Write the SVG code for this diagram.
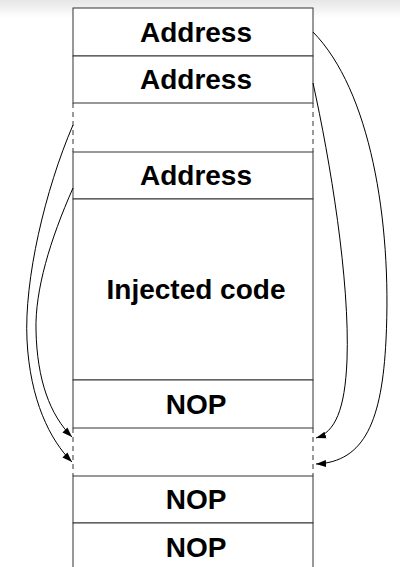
<svg xmlns="http://www.w3.org/2000/svg" width="400" height="567" viewBox="0 0 400 567">
<style>
.cell{fill:#fff;stroke:#333;stroke-width:1}
.side{stroke:#333;stroke-width:1;stroke-dasharray:5,4;fill:none}
.lbl{font-family:"Liberation Sans",Arial,sans-serif;font-weight:bold;font-size:28px;text-anchor:middle;fill:#000}
.conn{fill:none;stroke:#000;stroke-width:1}
</style>
<defs>
<linearGradient id="top" x1="0" y1="0" x2="0" y2="1">
<stop offset="0" stop-color="#e6e6e6"/>
<stop offset="1" stop-color="#ffffff"/>
</linearGradient>
<marker id="ah" viewBox="0 0 10 10" refX="10" refY="5" markerWidth="10" markerHeight="10" markerUnits="userSpaceOnUse" orient="auto">
<path d="M0,1.5 L10,5 L0,8.5 Z" fill="#000"/>
</marker>
</defs>
<rect x="0" y="0" width="400" height="567" fill="#fff"/>
<rect x="0" y="0" width="400" height="18" fill="url(#top)"/>
<g id="addr1"><rect class="cell" x="73" y="8" width="240" height="48"/><text class="lbl" x="196" y="42">Address</text></g>
<g id="addr2"><rect class="cell" x="73" y="56" width="240" height="47"/><text class="lbl" x="196" y="89">Address</text></g>
<g id="gap1"><line class="side" x1="73" y1="103" x2="73" y2="152"/><line class="side" x1="313" y1="103" x2="313" y2="152"/></g>
<g id="addr3"><rect class="cell" x="73" y="152" width="240" height="47"/><text class="lbl" x="196" y="185">Address</text></g>
<g id="code"><rect class="cell" x="73" y="199" width="240" height="181"/><text class="lbl" x="196" y="299">Injected code</text></g>
<g id="nop1"><rect class="cell" x="73" y="380" width="240" height="48"/><text class="lbl" x="196" y="414">NOP</text></g>
<g id="gap2"><line class="side" x1="73" y1="428" x2="73" y2="476"/><line class="side" x1="313" y1="428" x2="313" y2="476"/></g>
<g id="nop2"><rect class="cell" x="73" y="476" width="240" height="47"/><text class="lbl" x="196" y="509">NOP</text></g>
<g id="nop3"><rect class="cell" x="73" y="523" width="240" height="50"/><text class="lbl" x="196" y="557">NOP</text></g>
<g id="connectors">
<path class="conn" marker-end="url(#ah)" d="M73,125 C45,190 24,280 27,340 C30,400 50,440 72,462"/>
<path class="conn" marker-end="url(#ah)" d="M73,188 C50,240 35,290 36,330 C37,380 50,415 72,437"/>
<path class="conn" marker-end="url(#ah)" d="M313,32 C370,90 392,220 386,340 C382,420 365,462 316,464"/>
<path class="conn" marker-end="url(#ah)" d="M313,83 C330,160 350,280 347,360 C345,410 335,432 316,438"/>
</g>
</svg>
